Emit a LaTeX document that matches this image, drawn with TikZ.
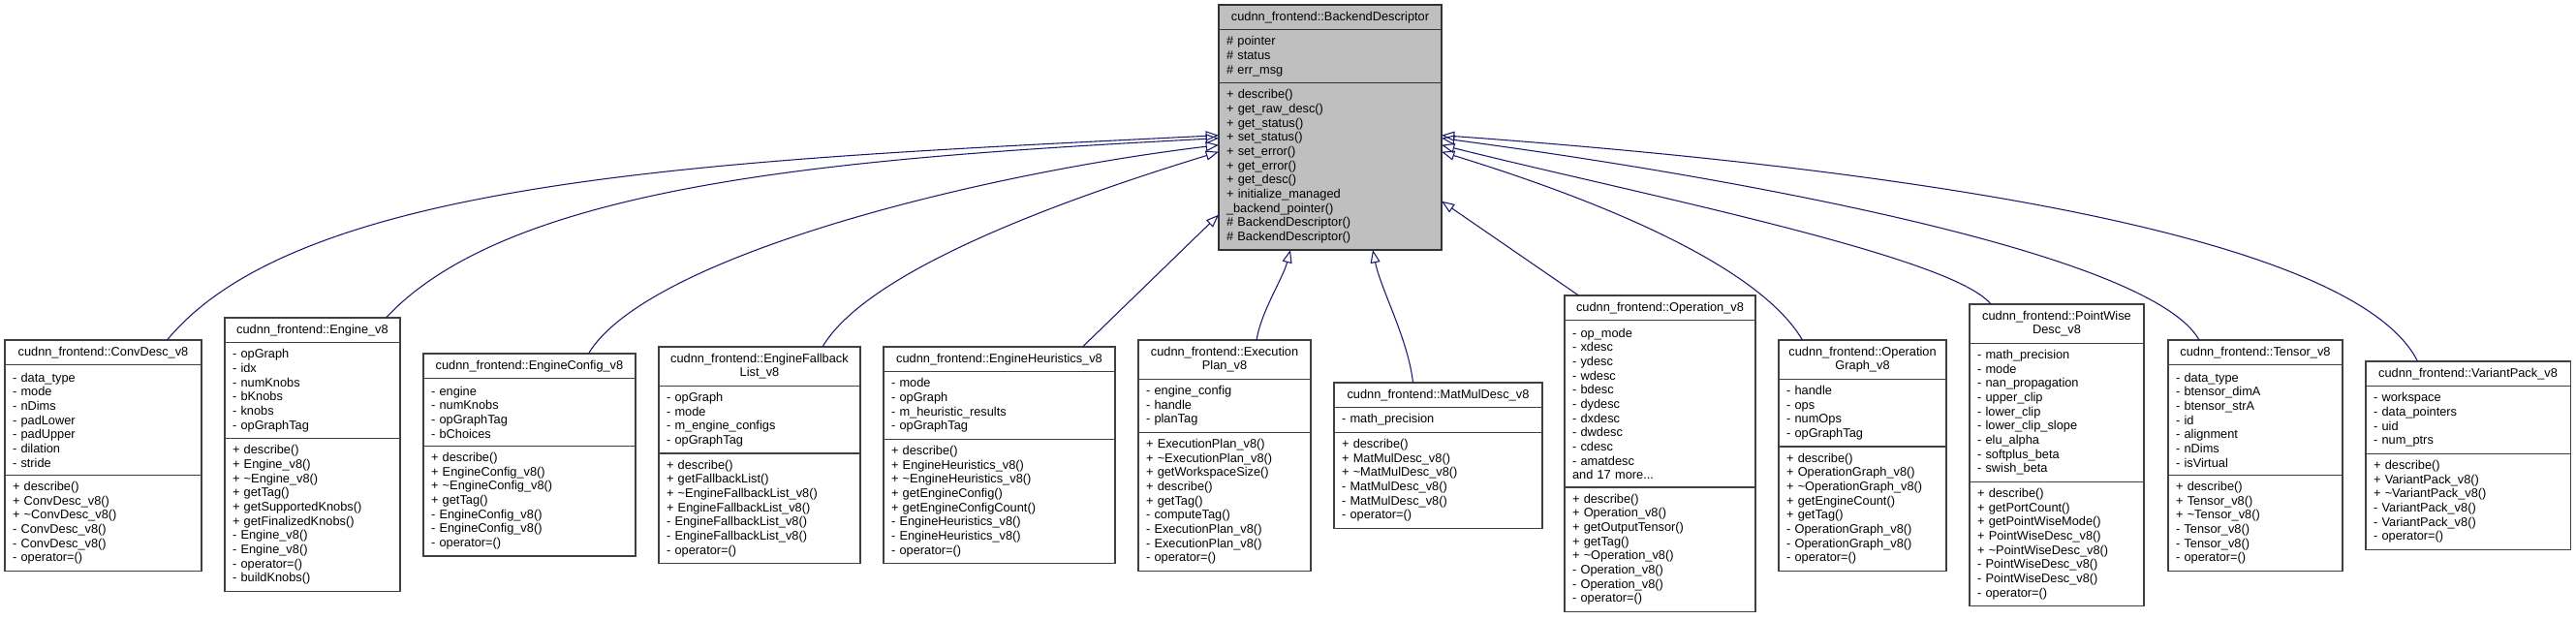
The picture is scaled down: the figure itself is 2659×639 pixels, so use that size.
\documentclass[tikz,border=0pt]{standalone}
\usepackage{fontspec}
\setmainfont{Liberation Sans}
\usepackage{tikz}
\usetikzlibrary{arrows.meta,positioning}
\usepackage{xcolor}
\definecolor{edgeblue}{HTML}{191970}
\definecolor{basefill}{HTML}{BFBFBF}
\definecolor{boxline}{HTML}{404040}
\newcommand{\dgfont}{\fontsize{9.6}{11}\selectfont}
\tikzset{
  head/.style={draw=boxline, line width=0.8pt, fill=white, outer sep=0pt, inner xsep=6pt, inner ysep=0pt, font=\dgfont, align=center, minimum height={#1*11pt+8.25pt}},
  fields/.style={head=#1, align=left},
}

\begin{document}
\begin{tikzpicture}[x=0.75pt, y=-0.75pt,
  basebox/.style={fill=basefill, draw=black!80, line width=1pt},
  inherit/.style={draw=edgeblue, line width=0.8pt, -{Triangle[open, length=10pt, width=7.5pt]}},
]
\useasboundingbox (0,0) rectangle (2659,639);

% base class
\node[head=1, text width=160.5pt, basebox, anchor=north west] (base) at (1258,5) {cudnn\_frontend::BackendDescriptor};
\node[fields=3, text width=160.5pt, basebox, below=0pt of base] (base-f) {\# pointer\\\# status\\\# err\_msg};
\node[fields=11, text width=160.5pt, basebox, below=0pt of base-f] (base-m) {+ describe()\\+ get\_raw\_desc()\\+ get\_status()\\+ set\_status()\\+ set\_error()\\+ get\_error()\\+ get\_desc()\\+ initialize\_managed\\\_backend\_pointer()\\\# BackendDescriptor()\\\# BackendDescriptor()};

% derived classes
\node[head=1, text width=140.25pt, anchor=north west] (conv) at (5,351) {cudnn\_frontend::ConvDesc\_v8};
\node[fields=7, text width=140.25pt, below=0pt of conv] (conv-f) {- data\_type\\- mode\\- nDims\\- padLower\\- padUpper\\- dilation\\- stride};
\node[fields=6, text width=140.25pt, below=0pt of conv-f] (conv-m) {+ describe()\\+ ConvDesc\_v8()\\+ \textasciitilde ConvDesc\_v8()\\- ConvDesc\_v8()\\- ConvDesc\_v8()\\- operator=()};

\node[head=1, text width=123.75pt, anchor=north west] (engine) at (232,328) {cudnn\_frontend::Engine\_v8};
\node[fields=6, text width=123.75pt, below=0pt of engine] (engine-f) {- opGraph\\- idx\\- numKnobs\\- bKnobs\\- knobs\\- opGraphTag};
\node[fields=10, text width=123.75pt, below=0pt of engine-f] (engine-m) {+ describe()\\+ Engine\_v8()\\+ \textasciitilde Engine\_v8()\\+ getTag()\\+ getSupportedKnobs()\\+ getFinalizedKnobs()\\- Engine\_v8()\\- Engine\_v8()\\- operator=()\\- buildKnobs()};

\node[head=1, text width=152.25pt, anchor=north west] (config) at (437,365) {cudnn\_frontend::EngineConfig\_v8};
\node[fields=4, text width=152.25pt, below=0pt of config] (config-f) {- engine\\- numKnobs\\- opGraphTag\\- bChoices};
\node[fields=7, text width=152.25pt, below=0pt of config-f] (config-m) {+ describe()\\+ EngineConfig\_v8()\\+ \textasciitilde EngineConfig\_v8()\\+ getTag()\\- EngineConfig\_v8()\\- EngineConfig\_v8()\\- operator=()};

\node[head=2, text width=144pt, anchor=north west] (fallback) at (680,358) {cudnn\_frontend::EngineFallback\\List\_v8};
\node[fields=4, text width=144pt, below=0pt of fallback] (fallback-f) {- opGraph\\- mode\\- m\_engine\_configs\\- opGraphTag};
\node[fields=7, text width=144pt, below=0pt of fallback-f] (fallback-m) {+ describe()\\+ getFallbackList()\\+ \textasciitilde EngineFallbackList\_v8()\\+ EngineFallbackList\_v8()\\- EngineFallbackList\_v8()\\- EngineFallbackList\_v8()\\- operator=()};

\node[head=1, text width=167.25pt, anchor=north west] (heur) at (912,358) {cudnn\_frontend::EngineHeuristics\_v8};
\node[fields=4, text width=167.25pt, below=0pt of heur] (heur-f) {- mode\\- opGraph\\- m\_heuristic\_results\\- opGraphTag};
\node[fields=8, text width=167.25pt, below=0pt of heur-f] (heur-m) {+ describe()\\+ EngineHeuristics\_v8()\\+ \textasciitilde EngineHeuristics\_v8()\\+ getEngineConfig()\\+ getEngineConfigCount()\\- EngineHeuristics\_v8()\\- EngineHeuristics\_v8()\\- operator=()};

\node[head=2, text width=121.5pt, anchor=north west] (plan) at (1175,351) {cudnn\_frontend::Execution\\Plan\_v8};
\node[fields=3, text width=121.5pt, below=0pt of plan] (plan-f) {- engine\_config\\- handle\\- planTag};
\node[fields=9, text width=121.5pt, below=0pt of plan-f] (plan-m) {+ ExecutionPlan\_v8()\\+ \textasciitilde ExecutionPlan\_v8()\\+ getWorkspaceSize()\\+ describe()\\+ getTag()\\- computeTag()\\- ExecutionPlan\_v8()\\- ExecutionPlan\_v8()\\- operator=()};

\node[head=1, text width=149.25pt, anchor=north west] (matmul) at (1377,395) {cudnn\_frontend::MatMulDesc\_v8};
\node[fields=1, text width=149.25pt, below=0pt of matmul] (matmul-f) {- math\_precision};
\node[fields=6, text width=149.25pt, below=0pt of matmul-f] (matmul-m) {+ describe()\\+ MatMulDesc\_v8()\\+ \textasciitilde MatMulDesc\_v8()\\- MatMulDesc\_v8()\\- MatMulDesc\_v8()\\- operator=()};

\node[head=1, text width=135.75pt, anchor=north west] (oper) at (1615,305) {cudnn\_frontend::Operation\_v8};
\node[fields=11, text width=135.75pt, below=0pt of oper] (oper-f) {- op\_mode\\- xdesc\\- ydesc\\- wdesc\\- bdesc\\- dydesc\\- dxdesc\\- dwdesc\\- cdesc\\- amatdesc\\and 17 more...};
\node[fields=8, text width=135.75pt, below=0pt of oper-f] (oper-m) {+ describe()\\+ Operation\_v8()\\+ getOutputTensor()\\+ getTag()\\+ \textasciitilde Operation\_v8()\\- Operation\_v8()\\- Operation\_v8()\\- operator=()};

\node[head=2, text width=117.75pt, anchor=north west] (graph) at (1836,351) {cudnn\_frontend::Operation\\Graph\_v8};
\node[fields=4, text width=117.75pt, below=0pt of graph] (graph-f) {- handle\\- ops\\- numOps\\- opGraphTag};
\node[fields=8, text width=117.75pt, below=0pt of graph-f] (graph-m) {+ describe()\\+ OperationGraph\_v8()\\+ \textasciitilde OperationGraph\_v8()\\+ getEngineCount()\\+ getTag()\\- OperationGraph\_v8()\\- OperationGraph\_v8()\\- operator=()};

\node[head=2, text width=123pt, anchor=north west] (pointwise) at (2033,314) {cudnn\_frontend::PointWise\\Desc\_v8};
\node[fields=9, text width=123pt, below=0pt of pointwise] (pointwise-f) {- math\_precision\\- mode\\- nan\_propagation\\- upper\_clip\\- lower\_clip\\- lower\_clip\_slope\\- elu\_alpha\\- softplus\_beta\\- swish\_beta};
\node[fields=8, text width=123pt, below=0pt of pointwise-f] (pointwise-m) {+ describe()\\+ getPortCount()\\+ getPointWiseMode()\\+ PointWiseDesc\_v8()\\+ \textasciitilde PointWiseDesc\_v8()\\- PointWiseDesc\_v8()\\- PointWiseDesc\_v8()\\- operator=()};

\node[head=1, text width=123pt, anchor=north west] (tensor) at (2238,351) {cudnn\_frontend::Tensor\_v8};
\node[fields=7, text width=123pt, below=0pt of tensor] (tensor-f) {- data\_type\\- btensor\_dimA\\- btensor\_strA\\- id\\- alignment\\- nDims\\- isVirtual};
\node[fields=6, text width=123pt, below=0pt of tensor-f] (tensor-m) {+ describe()\\+ Tensor\_v8()\\+ \textasciitilde Tensor\_v8()\\- Tensor\_v8()\\- Tensor\_v8()\\- operator=()};

\node[head=1, text width=146.25pt, anchor=north west] (variant) at (2442,373) {cudnn\_frontend::VariantPack\_v8};
\node[fields=4, text width=146.25pt, below=0pt of variant] (variant-f) {- workspace\\- data\_pointers\\- uid\\- num\_ptrs};
\node[fields=6, text width=146.25pt, below=0pt of variant-f] (variant-m) {+ describe()\\+ VariantPack\_v8()\\+ \textasciitilde VariantPack\_v8()\\- VariantPack\_v8()\\- VariantPack\_v8()\\- operator=()};

% inheritance edges
\draw[inherit] ([shift={(66,0)}]conv.north) .. controls +(140,-170) and +(-500,25) .. ([shift={(0,54)}]base-m.north west);
\draw[inherit] ([shift={(76,0)}]engine.north) .. controls +(130,-140) and +(-380,20) .. ([shift={(0,57)}]base-m.north west);
\draw[inherit] ([shift={(61,0)}]config.north) .. controls +(60,-100) and +(-250,30) .. ([shift={(0,64)}]base-m.north west);
\draw[inherit] ([shift={(65,0)}]fallback.north) .. controls +(50,-85) and +(-130,40) .. ([shift={(0,71)}]base-m.north west);
\draw[inherit] ([shift={(86,0)}]heur.north) -- ([shift={(0,136)}]base-m.north west);
\draw[inherit] ([shift={(33,0)}]plan.north) .. controls +(5,-30) and +(-8,30) .. ([shift={(74,0)}]base-m.south west);
\draw[inherit] ([shift={(-26,0)}]matmul.north) .. controls +(-5,-45) and +(8,40) .. ([shift={(159,0)}]base-m.south west);
\draw[inherit] ([shift={(-84,0)}]oper.north) -- ([shift={(0,122)}]base-m.north east);
\draw[inherit] ([shift={(-62,0)}]graph.north) .. controls +(-50,-85) and +(130,40) .. ([shift={(0,71)}]base-m.north east);
\draw[inherit] ([shift={(-68,0)}]pointwise.north) .. controls +(-40,-50) and +(200,50) .. ([shift={(0,64)}]base-m.north east);
\draw[inherit] ([shift={(-58,0)}]tensor.north) .. controls +(-50,-90) and +(300,40) .. ([shift={(0,57)}]base-m.north east);
\draw[inherit] ([shift={(-52,0)}]variant.north) .. controls +(-60,-120) and +(550,40) .. ([shift={(0,54)}]base-m.north east);
\end{tikzpicture}
\end{document}
